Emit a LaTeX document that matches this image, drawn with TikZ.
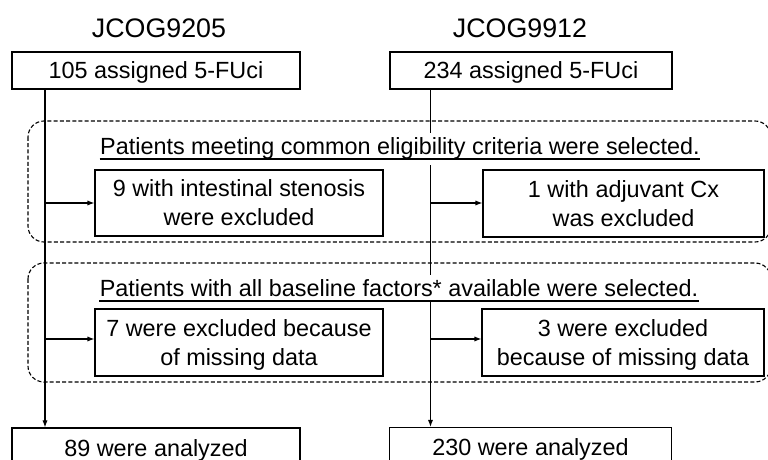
\documentclass[tikz,border=0pt]{standalone}
\usepackage{fontspec}
\setmainfont{Liberation Sans}
\usetikzlibrary{arrows.meta}

\begin{document}
\begin{tikzpicture}
  [x=0.5pt,y=-0.5pt,line width=.55pt,
   every node/.style={font=\fontsize{11.7}{14.5}\selectfont},
   study/.style={font=\fontsize{13.4}{16}\selectfont,inner sep=0pt},
   box/.style={draw,inner sep=0pt,align=center,text depth=0pt},
   head/.style={fill=white,inner xsep=0pt,inner ysep=2.5pt,anchor=base},
   region/.style={dash pattern=on 2pt off 1.1pt,rounded corners=8pt},
   >={Latex[length=3.5pt,width=2.6pt]}]
  \useasboundingbox (0,0) rectangle (768,460);
  \clip (0,0) rectangle (768,460);

  \draw[region] (28,121) rectangle (771,242);
  \draw[region] (28,263) rectangle (771,382);

  \node[study] (s1) at (159,28) {JCOG9205};
  \node[study] (s2) at (520,28) {JCOG9912};

  \node[box,minimum width=144pt,minimum height=18.5pt] (a1) at (156,70.5) {105 assigned 5-FUci};
  \node[box,minimum width=141pt,minimum height=18.5pt] (a2) at (531,70.5) {234 assigned 5-FUci};

  \node[box,minimum width=144pt,minimum height=33pt] (b1) at (239,203) {9 with intestinal stenosis\\were excluded};
  \node[box,minimum width=140.5pt,minimum height=33.5pt] (b2) at (623.5,203.5) {1 with adjuvant Cx\\was excluded};
  \node[box,minimum width=144pt,minimum height=33.5pt] (b3) at (239,342.5) {7 were excluded because\\of missing data};
  \node[box,minimum width=141pt,minimum height=33.5pt] (b4) at (623,342.5) {3 were excluded\\because of missing data};

  \node[box,minimum width=144pt,minimum height=20pt] (c1) at (156,448) {89 were analyzed};
  \node[box,minimum width=141pt,minimum height=20pt] (c2) at (530.5,447.5) {230 were analyzed};

  \coordinate (lx) at (45,0);
  \coordinate (rx) at (430.5,0);
  \coordinate (l1) at (45,203);
  \coordinate (r1) at (430.5,203);
  \coordinate (l2) at (45,339);
  \coordinate (r2) at (430.5,339);

  \draw[->] (a1.south -| lx) -- (c1.north -| lx);
  \draw[->] (a2.south -| rx) -- (c2.north -| rx);

  \foreach \from/\to in {l1/b1, r1/b2, l2/b3, r2/b4}
    \draw[->] (\from) -- (\from -| \to.west);

  \node[head] (h1) at (400,155) {Patients meeting common eligibility criteria were selected.};
  \node[head] (h2) at (399,297) {Patients with all baseline factors* available were selected.};

  \foreach \h in {h1,h2}
    \draw ([yshift=-2pt]\h.base west) -- ([yshift=-2pt]\h.base east);

\end{tikzpicture}
\end{document}
